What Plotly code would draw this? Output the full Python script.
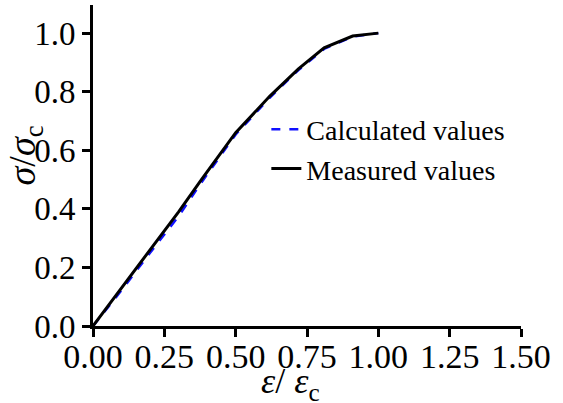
import plotly.graph_objects as go

strain = [0.0, 0.1, 0.2, 0.3, 0.38, 0.5, 0.62, 0.72, 0.81, 0.91, 1.0]
measured = [0.0, 0.13, 0.26, 0.39, 0.50, 0.66, 0.785, 0.878, 0.950, 0.990, 1.0]
calculated = [0.0, 0.122, 0.25, 0.375, 0.49, 0.654, 0.78, 0.874, 0.946, 0.988, 1.0]
xticks = [0.0, 0.25, 0.5, 0.75, 1.0, 1.25, 1.5]
yticks = [0.0, 0.2, 0.4, 0.6, 0.8, 1.0]

fig = go.Figure()
fig.add_trace(go.Scatter(x=strain, y=calculated, mode="lines", name="Calculated values",
                         line=dict(color="#1010ff", width=2.5, dash="dash")))
fig.add_trace(go.Scatter(x=strain, y=measured, mode="lines", name="Measured values",
                         line=dict(color="black", width=3)))

font = "Liberation Serif, Times New Roman, serif"
fig.update_layout(
    width=563, height=403,
    margin=dict(l=93, r=42, t=5, b=77),
    paper_bgcolor="white", plot_bgcolor="white",
    font=dict(family=font, color="black"),
    showlegend=True,
    legend=dict(x=0.405, y=0.69, xanchor="left", yanchor="top",
                font=dict(family=font, size=28, color="black"),
                bgcolor="rgba(0,0,0,0)", tracegroupgap=0, itemwidth=30),
    xaxis=dict(range=[0, 1.5], tickvals=xticks, ticktext=[f"{v:.2f}" for v in xticks],
               showgrid=False, zeroline=False, showline=True, linecolor="black", linewidth=3,
               ticks="outside", ticklen=8, tickwidth=3, tickcolor="black",
               ticklabelstandoff=-10,
               tickfont=dict(family=font, size=34, color="black")),
    yaxis=dict(range=[0, 1.096], tickvals=yticks, ticktext=[f"{v:.1f}" for v in yticks],
               showgrid=False, zeroline=False, showline=True, linecolor="black", linewidth=3,
               ticks="outside", ticklen=8, tickwidth=3, tickcolor="black",
               tickfont=dict(family=font, size=33, color="black")),
)

fig.add_annotation(text="<i>ε</i>/ <i>ε</i><sub>c</sub>", xref="paper", yref="paper",
                   x=0.462, y=-0.18, xanchor="center", yanchor="middle", showarrow=False,
                   font=dict(family=font, size=36, color="black"))
fig.add_annotation(text="<i>σ</i>/<i>σ</i><sub>c</sub>", xref="paper", yref="paper",
                   x=-0.16, y=0.53, xanchor="center", yanchor="middle", showarrow=False,
                   textangle=-90, font=dict(family=font, size=38, color="black"))

fig.write_html("out.html")
